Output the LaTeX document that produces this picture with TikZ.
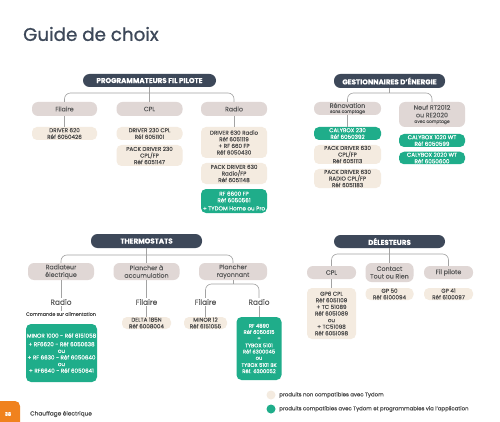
\documentclass[tikz,border=0pt]{standalone}
\usepackage{fontspec}
\setmainfont{Poppins}[FakeBold=0.15]
\newfontfamily\titlefont{Poppins}[FakeBold=0.9]
\definecolor{navy}{HTML}{3D4859}
\definecolor{catc}{HTML}{E0D7D5}
\definecolor{beige}{HTML}{F4EBE0}
\definecolor{greenc}{HTML}{1FAD8A}
\definecolor{linec}{HTML}{A3A3A3}
\definecolor{orangec}{HTML}{F0821E}
\definecolor{textc}{HTML}{4A4A4A}
\definecolor{cattext}{HTML}{5A5A5A}
\newcommand\subtxt{\fontsize{4.4}{5}\selectfont}
\begin{document}
\begin{tikzpicture}[x=1pt,y=-1pt,
  hdr/.style={fill=navy,text=white,font=\fontsize{7.1}{7.5}\selectfont\bfseries,rounded corners=6.5pt,minimum height=13pt,inner sep=0pt},
  cat/.style={fill=catc,text=cattext,font=\fontsize{6.3}{7.6}\selectfont,rounded corners=6pt,inner sep=0pt,align=center},
  prod/.style={fill=beige,text=textc,font=\fontsize{5.6}{6.6}\selectfont,rounded corners=5pt,inner sep=0pt,align=center},
  grn/.style={prod,fill=greenc,text=white},
  lab/.style={font=\fontsize{7.4}{8}\selectfont,text=cattext,inner sep=1pt},
  conn/.style={draw=linec,line width=0.6pt,rounded corners=6pt}]
\useasboundingbox (0,0) rectangle (500,422);
\fill[white] (0,0) rectangle (500,422);

\node[anchor=west,font=\titlefont\fontsize{18.3}{20}\selectfont,text=navy,inner sep=0pt] (title) at (23,34) {Guide de choix};

% ---------- PROGRAMMATEURS
\node[hdr,minimum width=133pt] (phdr) at (149.5,80.5) {PROGRAMMATEURS FIL PILOTE};
\node[cat,minimum width=65pt,minimum height=14pt] (pfil) at (64.5,109) {Filaire};
\node[cat,minimum width=66pt,minimum height=14pt] (pcpl) at (149.5,109) {CPL};
\node[cat,minimum width=66pt,minimum height=14pt] (prad) at (234,109) {Radio};
\node[prod,minimum width=65pt,minimum height=13pt] (f1) at (64.5,133.5) {DRIVER 620\\Réf 6050426};
\node[prod,minimum width=66pt,minimum height=13pt] (c1) at (149.5,133.5) {DRIVER 230 CPL\\Réf 6051101};
\node[prod,minimum width=66pt,minimum height=21pt] (c2) at (149.5,155.5) {PACK DRIVER 230\\CPL/FP\\Réf 6051147};
\node[prod,minimum width=66pt,minimum height=31pt] (r1) at (234,142.5) {DRIVER 630 Radio\\Réf 6051119\\+ RF 660 FP\\Réf 6050430};
\node[prod,minimum width=66pt,minimum height=21pt] (r2) at (234,173.5) {PACK DRIVER 630\\Radio/FP\\Réf 6051148};
\node[grn,minimum width=66pt,minimum height=24pt] (r3) at (234,201) {RF 6600 FP\\Réf 6050561\\[1.5pt]+ TYDOM Home ou Pro};
\coordinate (pbar) at (149.5,93);
\draw[conn] (pfil.north) |- (pbar) -| (prad.north);
\draw[conn] (phdr.south) -- (pcpl.north);
\draw[conn] (pfil.south) -- (f1.north);
\draw[conn] (prad.south) -- (r1.north);

% ---------- GESTIONNAIRES
\node[hdr,minimum width=111pt,minimum height=14pt] (ghdr) at (389.5,81) {GESTIONNAIRES D'ÉNERGIE};
\node[cat,minimum width=67pt,minimum height=13pt] (gren) at (347.5,108.5) {Rénovation\\[-2.5pt]{\subtxt sans comptage}};
\node[cat,minimum width=66pt,minimum height=25pt] (gneuf) at (432,114.5) {Neuf RT2012\\ou RE2020\\[-2pt]{\subtxt avec comptage}};
\node[grn,minimum width=67pt,minimum height=13pt] (g1) at (347.5,133.5) {CALYBOX 230\\Réf 6050392};
\node[prod,minimum width=67pt,minimum height=19pt] (g2) at (347.5,154.5) {PACK DRIVER 630\\CPL/FP\\Réf 6051113};
\node[prod,minimum width=67pt,minimum height=19pt] (g3) at (347.5,178.5) {PACK DRIVER 630\\RADIO CPL/FP\\Réf 6051183};
\node[grn,minimum width=66pt,minimum height=13pt] (g4) at (432,140.5) {CALYBOX 1020 WT\\Réf 6050599};
\node[grn,minimum width=66pt,minimum height=12.5pt] (g5) at (432,158) {CALYBOX 2020 WT\\Réf 6050600};
\coordinate (gbar) at (389.5,93);
\draw[conn] (gren.north) |- (gbar) -| (gneuf.north);
\draw[conn] (ghdr.south) -- (gbar);
\draw[conn] (gren.south) -- (g1.north);

% ---------- THERMOSTATS
\node[hdr,minimum width=111pt,minimum height=14pt] (thdr) at (146.5,241) {THERMOSTATS};
\node[cat,minimum width=66pt,minimum height=17pt] (trad) at (61,271.5) {Radiateur\\électrique};
\node[cat,minimum width=66pt,minimum height=17pt] (tacc) at (146.5,271.5) {Plancher à\\accumulation};
\node[cat,minimum width=68pt,minimum height=17pt] (tray) at (233,271.5) {Plancher\\rayonnant};
\coordinate (tbar) at (146.5,255);
\draw[conn] (trad.north) |- (tbar) -| (tray.north);
\draw[conn] (thdr.south) -- (tacc.north);

\node[lab] (lrad1) at (61,302) {Radio};
\node[font=\fontsize{4.8}{6}\selectfont,text=textc,inner sep=1pt] (lcmd) at (61,314) {Commande sur alimentation};
\node[grn,minimum width=71pt,minimum height=58pt,font=\fontsize{5.6}{6.6}\selectfont] (m1) at (61.5,353) {MINOR 1000 - Réf 6151058\\[2pt]+ RF6620 - Réf 6050638\\ou\\+ RF 6630 - Réf 6050640\\ou\\+ RF6640 - Réf 6050641};
\draw[conn] (trad.south) -- (lrad1.north);
\draw[conn] (lrad1.south) -- (lcmd.north);

\node[lab] (lfil1) at (146.5,302) {Filaire};
\node[prod,minimum width=49pt,minimum height=12pt] (d1) at (146.5,323) {DELTA 185N\\Réf 6008004};
\draw[conn] (tacc.south) -- (lfil1.north);
\draw[conn] (lfil1.south) -- (d1.north);

\coordinate (rbar) at (233,284);
\node[lab] (lfil2) at (205.5,302) {Filaire};
\node[lab] (lrad2) at (259,302) {Radio};
\draw[conn] (tray.south) -- (rbar);
\draw[conn] (lfil2.north) |- (rbar) -| (lrad2.north);
\node[prod,minimum width=43pt,minimum height=12pt] (mi12) at (205.5,323) {MINOR 12\\Réf 6151055};
\node[grn,minimum width=45pt,minimum height=63pt,font=\fontsize{5.2}{6.2}\selectfont] (rf) at (259,348.5) {RF 4890\\Réf 6050615\\+\\[1pt]TYBOX 5101\\Réf 6300045\\ou\\[1pt]TYBOX 5101 BK\\Réf. 6300052};
\draw[conn] (lfil2.south) -- (mi12.north);
\draw[conn] (lrad2.south) -- (rf.north);

% ---------- DELESTEURS
\node[hdr,minimum width=111pt,minimum height=13pt] (dhdr) at (389.5,241.5) {DÉLESTEURS};
\node[cat,minimum width=49pt,minimum height=13pt] (dcpl) at (331.5,272.5) {CPL};
\node[cat,minimum width=48pt,minimum height=19pt] (dcon) at (389.5,272.5) {Contact\\Tout ou Rien};
\node[cat,minimum width=49pt,minimum height=13pt] (dfil) at (448.5,272.5) {Fil pilote};
\coordinate (dbar) at (389.5,254);
\draw[conn] (dcpl.north) |- (dbar) -| (dfil.north);
\draw[conn] (dhdr.south) -- (dcon.north);
\node[prod,minimum width=49pt,minimum height=51pt] (gp6) at (331.5,313.5) {GP6 CPL\\Réf 6051109\\+ TC 51089\\Réf 6051089\\ou\\+ TC51098\\Réf 6051098};
\node[prod,minimum width=48pt,minimum height=12pt] (gp50) at (389.5,294) {GP 50\\Réf 6100094};
\node[prod,minimum width=49pt,minimum height=12pt] (gp41) at (448.5,294) {GP 41\\Réf 6100097};
\draw[conn] (dcpl.south) -- (gp6.north);

% ---------- legend
\node[circle,fill=beige,minimum size=9pt,inner sep=0pt] (leg1) at (271,395) {};
\node[anchor=west,font=\fontsize{5.4}{6}\selectfont,text=textc,inner sep=0pt] (leg1t) at (279,395) {produits non compatibles avec Tydom};
\node[circle,fill=greenc,minimum size=9pt,inner sep=0pt] (leg2) at (271,409) {};
\node[anchor=west,font=\fontsize{5.4}{6}\selectfont,text=textc,inner sep=0pt] (leg2t) at (279,409) {produits compatibles avec Tydom et programmables via l'application};

% ---------- footer
\fill[orangec,rounded corners=5pt] (-10,401) rectangle (20,432);
\node[font=\fontsize{5}{6}\selectfont\bfseries,text=white,inner sep=0pt] (pnum) at (8,414) {38};
\node[anchor=west,font=\fontsize{5.8}{7}\selectfont,text=textc,inner sep=0pt] (foot) at (30,414) {Chauffage électrique};
\end{tikzpicture}
\end{document}
